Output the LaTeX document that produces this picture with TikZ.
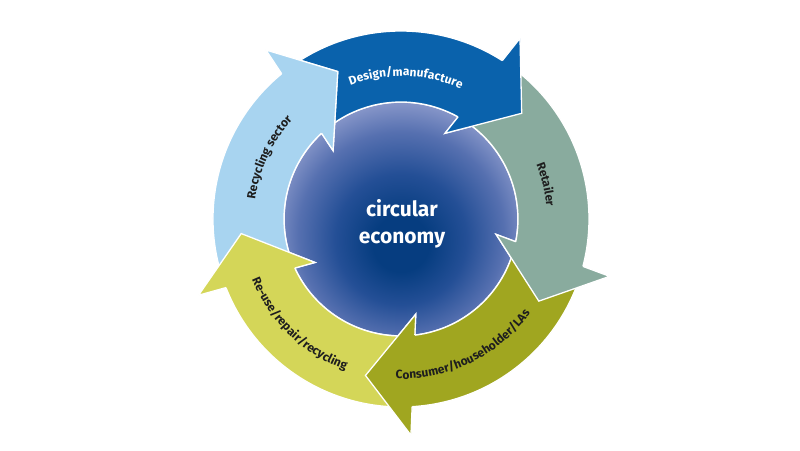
\documentclass[tikz,border=0pt]{standalone}
\usepackage{fontspec}
\usetikzlibrary{decorations.text}
\newfontfamily\firafont{Fira Sans}
\newcommand\lblfont{\firafont\bfseries\fontsize{12}{14}\selectfont}
\newcommand\ctrfont{\firafont\bfseries\fontsize{21}{26}\selectfont}
\definecolor{cdesign}{HTML}{0A62AC}
\definecolor{cretail}{HTML}{89AB9E}
\definecolor{cconsumer}{HTML}{A0A620}
\definecolor{creuse}{HTML}{D4D658}
\definecolor{crecycle}{HTML}{A8D4F0}
\definecolor{cdark}{HTML}{063D80}
\definecolor{cmid}{HTML}{244F96}
\definecolor{cmid2}{HTML}{5670B0}
\definecolor{clight}{HTML}{A4ADD8}
\definecolor{ctext}{HTML}{1E1E1E}
\pgfdeclareradialshading{centreshade}{\pgfpoint{0bp}{-6bp}}{color(0bp)=(cdark); color(6bp)=(cdark); color(14bp)=(cmid); color(22bp)=(cmid2); color(31bp)=(clight); color(50bp)=(clight)}
\tikzset{
  arrowpath/.style={line width=1.3pt, draw=white, line join=miter},
  lbl/.style={decorate, decoration={text along path, text align=center, text color=ctext}},
}
\begin{document}
\begin{tikzpicture}[x=1pt,y=1pt]
\useasboundingbox[fill=white] (-401,-231) rectangle (399,219);
% central circle
\shade[shading=centreshade] (0,0) circle[radius=117];
\draw[white, line width=1.6pt] (0,0) circle[radius=117];
% pass 1: full arrows
\foreach \r/\c in {0/cdesign,-72/cretail,-144/cconsumer,-216/creuse,-288/crecycle}{
  \begin{scope}[rotate=\r]
    \filldraw[arrowpath, fill=\c] (126:188) arc[start angle=126, end angle=57.4, radius=188]
      -- (119,180.7) -- (120.7,105.7) -- (44,85.7) -- (60.8:117)
      arc[start angle=60.8, end angle=126, radius=117] -- cycle;
  \end{scope}
}
% pass 2: heads on top of the next arrow's tail
\foreach \r/\c in {0/cdesign,-72/cretail,-144/cconsumer,-216/creuse,-288/crecycle}{
  \begin{scope}[rotate=\r]
    \fill[\c] (57.4:188) -- (119,180.7) -- (120.7,105.7) -- (44,85.7) -- (60.8:117) -- cycle;
    \draw[arrowpath] (57.4:188) -- (119,180.7) -- (120.7,105.7) -- (44,85.7) -- (60.8:117);
  \end{scope}
}
% labels
\path[lbl, decoration={text={|\lblfont|Design/manufacture}, text color=white}]
  (118:143) arc[start angle=118, end angle=58, radius=143];
\path[lbl, decoration={text={|\lblfont|Retailer}}]
  (43.5:146) arc[start angle=43.5, end angle=-16.5, radius=146];
\path[lbl, decoration={text={|\lblfont|Consumer/householder/LAs}}]
  (-94:160) arc[start angle=-94, end angle=-34, radius=160];
\path[lbl, decoration={text={|\lblfont|Re-use/repair/recycling}}]
  (196:161) arc[start angle=196, end angle=256, radius=161];
\path[lbl, decoration={text={|\lblfont|Recycling sector}}]
  (185:147) arc[start angle=185, end angle=125, radius=147];
% centre text
\node[anchor=base, white, font=\ctrfont, inner sep=0pt] (c1) at (1,2.3) {circular};
\node[anchor=base, white, font=\ctrfont, inner sep=0pt] (c2) at (1,-24) {economy};
\end{tikzpicture}
\end{document}
